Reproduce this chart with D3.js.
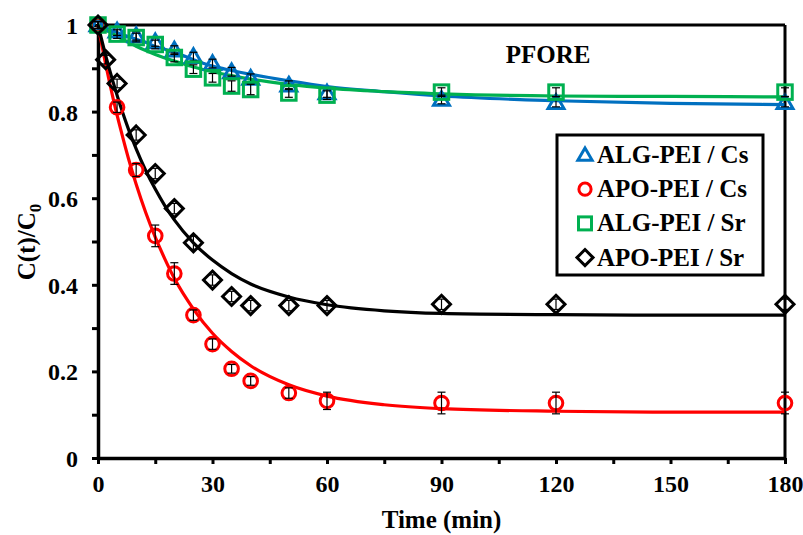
<!DOCTYPE html>
<html><head><meta charset="utf-8">
<script src="https://cdn.jsdelivr.net/npm/d3@7"></script>
<style>
html,body{margin:0;padding:0;background:#fff;}
text{font-family:"Liberation Serif","Times New Roman",serif;font-weight:bold;fill:#000;}
</style></head>
<body><svg id="c" width="803" height="535"></svg>
<script>
// ---- data ----
const timesA = [0,5,10,15,20,25,30,35,40,50,60,90,120,180];
const timesB = [0,2,5,10,15,20,25,30,35,40,50,60,90,120,180];
const algCs   = [1.0,0.986,0.975,0.961,0.942,0.927,0.911,0.892,0.877,0.861,0.843,0.828,0.821,0.821];
const algCsErr= [0.008,0.01,0.01,0.01,0.01,0.01,0.01,0.01,0.01,0.01,0.01,0.01,0.01,0.01];
const apoCs   = [1.0,0.81,0.665,0.513,0.426,0.33,0.263,0.206,0.178,0.15,0.132,0.127,0.127,0.127];
const apoCsErr= [0.008,0.012,0.015,0.025,0.025,0.012,0.012,0.01,0.01,0.012,0.02,0.025,0.025,0.025];
const algSr   = [1.0,0.979,0.971,0.955,0.925,0.898,0.878,0.859,0.851,0.843,0.838,0.845,0.845,0.845];
const algSrErr= [0.008,0.01,0.01,0.01,0.01,0.01,0.01,0.012,0.012,0.01,0.01,0.01,0.01,0.01];
const apoSr   = [1.0,0.92,0.865,0.746,0.657,0.576,0.497,0.411,0.373,0.352,0.352,0.352,0.355,0.355,0.355];
const apoSrErr= [0.008,0.01,0.01,0.012,0.012,0.012,0.015,0.012,0.012,0.012,0.012,0.012,0.012,0.012,0.012];

// fitted curves
const fitT      = [0,2,4,6,8,10,12.5,15,17.5,20,25,30,35,40,50,60,75,90,120,150,180];
const fitAlgCs  = [1.0,0.993,0.986,0.979,0.973,0.967,0.960,0.950,0.944,0.937,0.920,0.905,0.895,0.886,0.871,0.858,0.846,0.836,0.825,0.819,0.816];
const fitApoCs  = [1.0,0.910,0.829,0.757,0.691,0.632,0.567,0.510,0.460,0.415,0.344,0.288,0.246,0.213,0.169,0.143,0.123,0.114,0.108,0.106,0.106];
const fitAlgSr  = [1.0,0.989,0.979,0.969,0.960,0.951,0.941,0.932,0.924,0.917,0.903,0.892,0.883,0.875,0.863,0.854,0.846,0.841,0.836,0.835,0.834];
const fitApoSr  = [1.0,0.930,0.867,0.810,0.759,0.714,0.664,0.621,0.583,0.550,0.497,0.457,0.426,0.402,0.372,0.354,0.340,0.334,0.331,0.330,0.330];

const xTicks = [0,15,30,45,60,75,90,105,120,135,150,165,180];
const xLabels = [0,30,60,90,120,150,180];
const yTicks = [0,0.1,0.2,0.3,0.4,0.5,0.6,0.7,0.8,0.9,1];
const yLabels = [0,0.2,0.4,0.6,0.8,1];

const seriesNames = ["ALG-PEI / Cs","APO-PEI / Cs","ALG-PEI / Sr","APO-PEI / Sr"];
const colors = ["#0070C0","#FF0000","#00B050","#000000"];
const shapes = ["triangle","circle","square","diamond"];

// ---- chart ----
const svg = d3.select("#c");
const x = d3.scaleLinear().domain([0,180]).range([98,785]);
const y = d3.scaleLinear().domain([0,1]).range([458,25]);

// frame top & right
svg.append("line").attr("x1",x(0)).attr("x2",x(180)).attr("y1",y(1)).attr("y2",y(1)).attr("stroke","#000").attr("stroke-width",3);
svg.append("line").attr("x1",x(180)).attr("x2",x(180)).attr("y1",y(1)).attr("y2",y(0)).attr("stroke","#000").attr("stroke-width",3);

const xAxis = svg.append("g").attr("transform",`translate(0,${y(0)})`)
  .call(d3.axisBottom(x).tickValues(xTicks).tickSize(6).tickSizeOuter(0)
    .tickFormat(d => xLabels.includes(d) ? d : ""));
const yAxis = svg.append("g").attr("transform",`translate(${x(0)},0)`)
  .call(d3.axisLeft(y).tickValues(yTicks).tickSize(6).tickSizeOuter(0)
    .tickFormat(d => yLabels.some(v=>Math.abs(v-d)<1e-9) ? d3.format("")(+d.toFixed(1)) : ""));
[xAxis,yAxis].forEach(g=>{
  g.attr("font-family",null);
  g.select(".domain").attr("stroke","#000").attr("stroke-width",3.5);
  g.selectAll(".tick line").attr("stroke","#000").attr("stroke-width",3);
  g.selectAll(".tick text").style("font-size","24px").style("font-family","'Liberation Serif',serif").style("font-weight","bold").attr("fill","#000");
});
xAxis.selectAll(".tick text").attr("dy","0.75em").attr("y",16);
yAxis.selectAll(".tick text").attr("x",-20).attr("dy","0.35em");

// axis titles
svg.append("text").attr("x",x(90)).attr("y",528).attr("text-anchor","middle").style("font-size","25px").text("Time (min)");
const yl = svg.append("text").attr("transform",`translate(35,242) rotate(-90)`).attr("text-anchor","middle").style("font-size","25px");
yl.append("tspan").text("C(t)/C");
yl.append("tspan").attr("dy","6").style("font-size","17px").text("0");

svg.append("text").attr("x",548).attr("y",63).attr("text-anchor","middle").style("font-size","25px").text("PFORE");

// lines
const line = d3.line().x((d,i)=>x(fitT[i])).y(d=>y(d)).curve(d3.curveMonotoneX);
const fits = [fitAlgCs,fitApoCs,fitAlgSr,fitApoSr];
fits.forEach((f,i)=>{
  svg.append("path").attr("d",line(f)).attr("fill","none").attr("stroke",colors[i]).attr("stroke-width",3.2);
});

function marker(g, shape, cx, cy, color, s){
  if(shape==="circle"){
    g.append("circle").attr("cx",cx).attr("cy",cy).attr("r",s*0.47).attr("fill","none").attr("stroke",color).attr("stroke-width",3);
  } else if(shape==="square"){
    g.append("rect").attr("x",cx-s/2).attr("y",cy-s/2).attr("width",s).attr("height",s).attr("fill","none").attr("stroke",color).attr("stroke-width",3);
  } else if(shape==="triangle"){
    const h=s*0.9;
    g.append("path").attr("d",`M${cx},${cy-h*0.6}L${cx+s*0.55},${cy+h*0.45}L${cx-s*0.55},${cy+h*0.45}Z`).attr("fill","none").attr("stroke",color).attr("stroke-width",3).attr("stroke-linejoin","miter");
  } else {
    const r=s*0.62;
    g.append("path").attr("d",`M${cx},${cy-r}L${cx+r},${cy}L${cx},${cy+r}L${cx-r},${cy}Z`).attr("fill","none").attr("stroke",color).attr("stroke-width",3);
  }
}

const data = [
  {t:timesA, v:algCs, e:algCsErr},
  {t:timesA, v:apoCs, e:apoCsErr},
  {t:timesA, v:algSr, e:algSrErr},
  {t:timesB, v:apoSr, e:apoSrErr}
];
data.forEach((d,si)=>{
  const g = svg.append("g");
  d.v.forEach((v,i)=>{
    marker(g, shapes[si], x(d.t[i]), y(v), colors[si], 14.5);
  });
  d.v.forEach((v,i)=>{
    const cx=x(d.t[i]), y1=y(v+d.e[i]), y2=y(v-d.e[i]);
    g.append("line").attr("x1",cx).attr("x2",cx).attr("y1",y1).attr("y2",y2).attr("stroke","#000").attr("stroke-width",1.2);
    g.append("line").attr("x1",cx-4).attr("x2",cx+4).attr("y1",y1).attr("y2",y1).attr("stroke","#000").attr("stroke-width",1.2);
    g.append("line").attr("x1",cx-4).attr("x2",cx+4).attr("y1",y2).attr("y2",y2).attr("stroke","#000").attr("stroke-width",1.2);
  });
});

// legend
const lg = svg.append("g");
lg.append("rect").attr("x",557).attr("y",135).attr("width",206).attr("height",140).attr("fill","#fff").attr("stroke","#000").attr("stroke-width",3);
seriesNames.forEach((n,i)=>{
  const cy = 155 + i*34.2;
  marker(lg, shapes[i], 585, cy, colors[i], 13);
  lg.append("text").attr("x",597).attr("y",cy+8).style("font-size","25px").text(n);
});
</script></body></html>
